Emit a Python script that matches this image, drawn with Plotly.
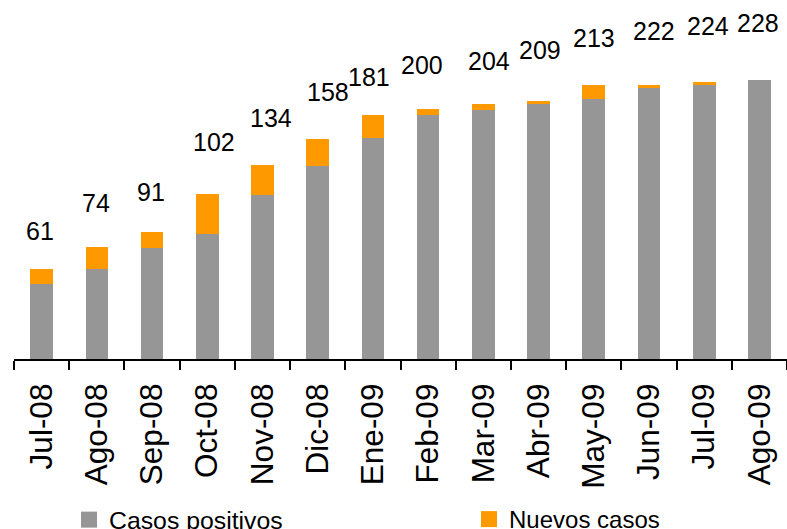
import plotly.graph_objects as go

months = ["Jul-08", "Ago-08", "Sep-08", "Oct-08", "Nov-08", "Dic-08", "Ene-09",
          "Feb-09", "Mar-09", "Abr-09", "May-09", "Jun-09", "Jul-09", "Ago-09"]
casos_positivos = [61, 74, 91, 102, 134, 158, 181, 200, 204, 209, 213, 222, 224, 228]
nuevos_casos = [13, 18, 13, 33, 25, 22, 19, 5, 5, 2, 11, 2, 3, 0]

GRAY = "#969696"
ORANGE = "#FF9900"
FONT = "Liberation Sans, Arial, sans-serif"
W, H = 787, 529

fig = go.Figure()
fig.add_trace(go.Bar(x=months, y=casos_positivos, name="Casos positivos",
                     marker=dict(color=GRAY, line=dict(width=0)), width=0.41,
                     showlegend=False, hoverinfo="x+y"))
fig.add_trace(go.Bar(x=months, y=nuevos_casos, name="Nuevos casos",
                     marker=dict(color=ORANGE, line=dict(width=0)), width=0.41,
                     showlegend=False, hoverinfo="x+y"))
# legend entries (square swatches), each in its own legend box
fig.add_trace(go.Scatter(x=[None], y=[None], mode="markers", name="Casos positivos",
                         marker=dict(symbol="square", size=16, color=GRAY),
                         legend="legend"))
fig.add_trace(go.Scatter(x=[None], y=[None], mode="markers", name="Nuevos casos",
                         marker=dict(symbol="square", size=16, color=ORANGE),
                         legend="legend2"))

# value labels (manually placed above the bars in the original)
label_dy = [38, 44, 40, 52, 47, 47, 38, 44, 43, 51, 47, 54, 56, 57]
label_dx = [-2, -1, -1, 7, 9, 10, -4, -6, 6, 1, 0, 5, 4, -1]
totals = [p + n for p, n in zip(casos_positivos, nuevos_casos)]
for m, t, v, dy, dx in zip(months, totals, casos_positivos, label_dy, label_dx):
    fig.add_annotation(x=m, y=t, text=str(v), showarrow=False,
                       yanchor="middle", xanchor="center", yshift=dy, xshift=dx,
                       font=dict(family=FONT, size=25, color="black"))

leg_common = dict(orientation="h", xanchor="left", xref="container",
                  yanchor="top", yref="container", y=1 - 497 / H,
                  bgcolor="rgba(0,0,0,0)", itemclick=False, itemdoubleclick=False)

fig.update_layout(
    width=W, height=H,
    margin=dict(l=14, r=0, t=0, b=170, autoexpand=False),
    barmode="stack",
    plot_bgcolor="white", paper_bgcolor="white",
    font=dict(family=FONT, color="black"),
    showlegend=True,
    legend=dict(x=(94 - 20 - 5) / W, font=dict(family=FONT, size=24.8, color="black"),
                **leg_common),
    legend2=dict(x=(493 - 20 - 4) / W, font=dict(family=FONT, size=24, color="black"),
                 **leg_common),
)
fig.update_xaxes(type="category", showline=True, linecolor="black", linewidth=2,
                 ticks="outside", ticklen=9, tickwidth=2, tickcolor="black",
                 tickson="boundaries", tickangle=-90, ticklabelstandoff=10,
                 tickfont=dict(family=FONT, size=31.5, color="black"),
                 showgrid=False, zeroline=False, automargin=False)
fig.update_yaxes(range=[0, 293.8], visible=False, showgrid=False, zeroline=False)

fig.write_html("out.html", config={"displayModeBar": False},
               post_script="document.body.style.margin='0';document.body.style.overflow='hidden';")
